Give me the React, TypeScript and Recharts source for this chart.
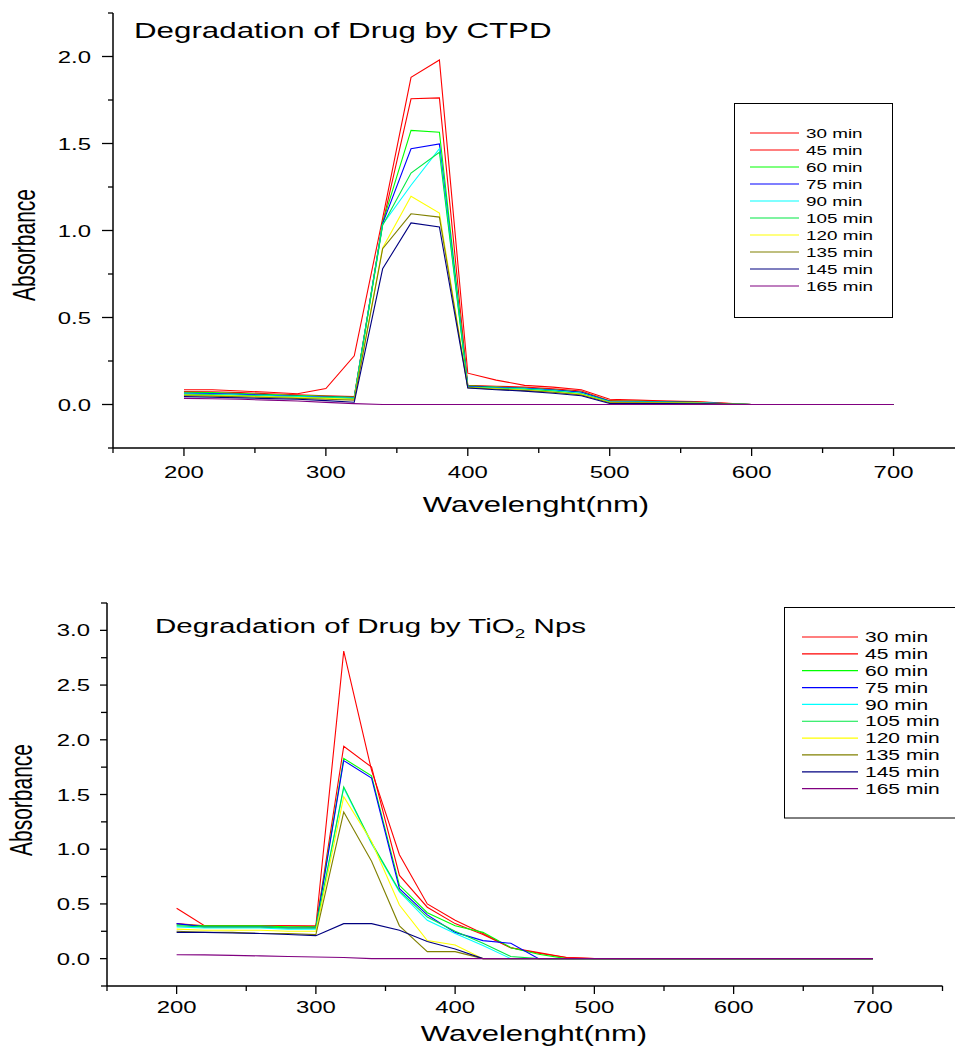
import React from 'react';
import { LineChart, Line, XAxis, YAxis } from 'recharts';

const WAVELENGTHS = [200, 220, 240, 260, 280, 300, 320, 340, 360, 380, 400, 420, 440, 460, 480, 500, 520, 540, 560, 580, 600, 620, 640, 660, 680, 700];
const TIME_LABELS = ['30 min', '45 min', '60 min', '75 min', '90 min', '105 min', '120 min', '135 min', '145 min', '165 min'];
const SERIES_COLORS = ['#ff0000', '#ff0000', '#00ff00', '#0000ff', '#00ffff', '#00e844', '#ffff00', '#808000', '#000080', '#800080'];

// Degradation of Drug by CTPD
const ctpd30 = [0.085, 0.085, 0.078, 0.07, 0.062, 0.092, 0.28, 1.07, 1.88, 1.98, 0.18, 0.14, 0.11, 0.1, 0.085, 0.03, 0.025, 0.02, 0.017, 0.008, 0, 0, 0, 0, 0, 0];
const ctpd45 = [0.075, 0.073, 0.068, 0.062, 0.056, 0.05, 0.045, 1.04, 1.757, 1.762, 0.11, 0.105, 0.1, 0.09, 0.078, 0.022, 0.02, 0.018, 0.015, 0.007, 0, 0, 0, 0, 0, 0];
const ctpd60 = [0.07, 0.068, 0.063, 0.057, 0.051, 0.047, 0.042, 1.045, 1.575, 1.565, 0.107, 0.1, 0.095, 0.085, 0.072, 0.02, 0.018, 0.016, 0.013, 0.006, 0, 0, 0, 0, 0, 0];
const ctpd75 = [0.065, 0.063, 0.058, 0.053, 0.047, 0.043, 0.04, 1.04, 1.47, 1.498, 0.104, 0.098, 0.093, 0.083, 0.07, 0.018, 0.016, 0.014, 0.012, 0.005, 0, 0, 0, 0, 0, 0];
const ctpd90 = [0.06, 0.058, 0.054, 0.05, 0.045, 0.04, 0.037, 1.035, 1.26, 1.47, 0.1, 0.095, 0.09, 0.08, 0.065, 0.015, 0.014, 0.012, 0.01, 0.005, 0, 0, 0, 0, 0, 0];
const ctpd105 = [0.058, 0.056, 0.052, 0.047, 0.042, 0.038, 0.035, 1.03, 1.33, 1.45, 0.1, 0.093, 0.087, 0.078, 0.062, 0.014, 0.013, 0.011, 0.009, 0.004, 0, 0, 0, 0, 0, 0];
const ctpd120 = [0.054, 0.052, 0.048, 0.044, 0.04, 0.035, 0.03, 0.9, 1.197, 1.1, 0.098, 0.09, 0.083, 0.072, 0.058, 0.012, 0.011, 0.01, 0.008, 0.004, 0, 0, 0, 0, 0, 0];
const ctpd135 = [0.05, 0.048, 0.044, 0.04, 0.035, 0.03, 0.025, 0.895, 1.096, 1.077, 0.097, 0.088, 0.08, 0.07, 0.055, 0.01, 0.01, 0.009, 0.007, 0.003, 0, 0, 0, 0, 0, 0];
const ctpd145 = [0.045, 0.042, 0.038, 0.034, 0.03, 0.022, 0.013, 0.78, 1.044, 1.02, 0.095, 0.085, 0.077, 0.065, 0.05, 0.006, 0.005, 0.005, 0.004, 0.002, 0, 0, 0, 0, 0, 0];
const ctpd165 = [0.035, 0.033, 0.03, 0.025, 0.02, 0.012, 0.005, 0, 0, 0, 0, 0, 0, 0, 0, 0, 0, 0, 0, 0, 0, 0, 0, 0, 0, 0];

// Degradation of Drug by TiO2 Nps
const tio30 = [0.46, 0.3, 0.3, 0.3, 0.3, 0.3, 2.81, 1.72, 0.95, 0.5, 0.35, 0.23, 0.1, 0.055, 0.01, 0, 0, 0, 0, 0, 0, 0, 0, 0, 0, 0];
const tio45 = [0.32, 0.3, 0.3, 0.3, 0.3, 0.29, 1.94, 1.75, 0.76, 0.47, 0.32, 0.22, 0.1, 0.05, 0.01, 0, 0, 0, 0, 0, 0, 0, 0, 0, 0, 0];
const tio60 = [0.31, 0.3, 0.3, 0.3, 0.29, 0.29, 1.83, 1.67, 0.67, 0.42, 0.3, 0.24, 0.1, 0.04, 0, 0, 0, 0, 0, 0, 0, 0, 0, 0, 0, 0];
const tio75 = [0.32, 0.29, 0.29, 0.29, 0.28, 0.28, 1.81, 1.65, 0.64, 0.4, 0.24, 0.165, 0.14, 0, 0, 0, 0, 0, 0, 0, 0, 0, 0, 0, 0, 0];
const tio90 = [0.29, 0.28, 0.28, 0.28, 0.27, 0.27, 1.56, 1.05, 0.61, 0.35, 0.23, 0.12, 0, 0, 0, 0, 0, 0, 0, 0, 0, 0, 0, 0, 0, 0];
const tio105 = [0.3, 0.29, 0.29, 0.29, 0.28, 0.28, 1.57, 1.06, 0.62, 0.38, 0.25, 0.14, 0.02, 0, 0, 0, 0, 0, 0, 0, 0, 0, 0, 0, 0, 0];
const tio120 = [0.27, 0.26, 0.26, 0.26, 0.25, 0.25, 1.48, 1.07, 0.49, 0.165, 0.125, 0, 0, 0, 0, 0, 0, 0, 0, 0, 0, 0, 0, 0, 0, 0];
const tio135 = [0.25, 0.24, 0.24, 0.23, 0.23, 0.22, 1.34, 0.89, 0.3, 0.064, 0.064, 0, 0, 0, 0, 0, 0, 0, 0, 0, 0, 0, 0, 0, 0, 0];
const tio145 = [0.24, 0.24, 0.235, 0.23, 0.22, 0.21, 0.32, 0.32, 0.26, 0.156, 0.089, 0, 0, 0, 0, 0, 0, 0, 0, 0, 0, 0, 0, 0, 0, 0];
const tio165 = [0.035, 0.034, 0.03, 0.025, 0.02, 0.015, 0.01, 0, 0, 0, 0, 0, 0, 0, 0, 0, 0, 0, 0, 0, 0, 0, 0, 0, 0, 0];

const CTPD_SERIES = [ctpd30, ctpd45, ctpd60, ctpd75, ctpd90, ctpd105, ctpd120, ctpd135, ctpd145, ctpd165];
const TIO_SERIES = [tio30, tio45, tio60, tio75, tio90, tio105, tio120, tio135, tio145, tio165];

const X_TICKS = [150, 200, 250, 300, 350, 400, 450, 500, 550, 600, 650, 700, 750];
const CTPD_Y_TICKS = [-0.25, 0, 0.25, 0.5, 0.75, 1, 1.25, 1.5, 1.75, 2, 2.25];
const TIO_Y_TICKS = [-0.25, 0, 0.25, 0.5, 0.75, 1, 1.25, 1.5, 1.75, 2, 2.25, 2.5, 2.75, 3, 3.25];

const CTPD_TITLE = 'Degradation of Drug by CTPD';
const TIO_TITLE_A = 'Degradation of Drug by TiO';
const TIO_TITLE_SUB = '2';
const TIO_TITLE_B = ' Nps';
const X_TITLE = 'Wavelenght(nm)';
const Y_TITLE = 'Absorbance';

const SX = 1.45;
const FONT = "'Liberation Sans', Arial, Helvetica, sans-serif";

function buildRows(series: number[][]) {
  return WAVELENGTHS.map((wl, i) => {
    const row: any = { wl };
    series.forEach((s, j) => {
      row['s' + j] = s[i];
    });
    return row;
  });
}

const ctpdRows = buildRows(CTPD_SERIES);
const tioRows = buildRows(TIO_SERIES);

function makeXTick(labelDy: number) {
  return (props: any) => {
    const { x, y, payload } = props;
    const v = payload.value;
    const major = v % 100 === 0;
    return (
      <g>
        <line x1={x} x2={x} y1={y} y2={y + (major ? 8 : 5)} stroke="#000" strokeWidth={1.3} />
        {major && (
          <text
            transform={`translate(${x},${y + labelDy}) scale(${SX},1)`}
            textAnchor="middle"
            fontSize={16.5}
            fill="#000"
            fontFamily={FONT}
          >
            {v}
          </text>
        )}
      </g>
    );
  };
}

function makeYTick(majorLen: number, minorLen: number, labelGap: number) {
  return (props: any) => {
    const { x, y, payload } = props;
    const v = payload.value;
    const major = Math.abs(v * 2 - Math.round(v * 2)) < 1e-6;
    return (
      <g>
        <line x1={x} x2={x - (major ? majorLen : minorLen)} y1={y} y2={y} stroke="#000" strokeWidth={1.3} />
        {major && (
          <text
            transform={`translate(${x - labelGap},${y + 6}) scale(${SX},1)`}
            textAnchor="end"
            fontSize={16.5}
            fill="#000"
            fontFamily={FONT}
          >
            {v.toFixed(1)}
          </text>
        )}
      </g>
    );
  };
}

const axisLineStyle = { stroke: '#000', strokeWidth: 1.5 };

function renderLines() {
  return TIME_LABELS.map((label, j) => (
    <Line
      key={label}
      type="linear"
      dataKey={'s' + j}
      name={label}
      stroke={SERIES_COLORS[j]}
      strokeWidth={1.1}
      dot={false}
      activeDot={false}
      isAnimationActive={false}
    />
  ));
}

function StretchedText(props: { x: number; y: number; size: number; anchor?: string; children: any; rotate?: boolean }) {
  const { x, y, size, anchor = 'start', children, rotate } = props;
  return (
    <text
      transform={`translate(${x},${y}) scale(${SX},1)${rotate ? ' rotate(-90)' : ''}`}
      textAnchor={anchor as any}
      fontSize={size}
      fill="#000"
      fontFamily={FONT}
    >
      {children}
    </text>
  );
}

function LegendBlock(props: {
  left: number; top: number; width: number; height: number;
  lx1: number; lx2: number; tx: number; y0: number; dy: number; size: number;
}) {
  const { left, top, width, height, lx1, lx2, tx, y0, dy, size } = props;
  return (
    <g>
      <rect x={left} y={top} width={width} height={height} fill="#fff" stroke="#000" strokeWidth={1} />
      {TIME_LABELS.map((label, i) => {
        const yy = y0 + dy * i;
        return (
          <g key={label}>
            <line x1={lx1} x2={lx2} y1={yy} y2={yy} stroke={SERIES_COLORS[i]} strokeWidth={1.2} />
            <StretchedText x={tx} y={yy + size * 0.36} size={size}>{label}</StretchedText>
          </g>
        );
      })}
    </g>
  );
}

export default function App() {
  return (
    <div
      style={{
        position: 'absolute',
        left: 0,
        top: 0,
        width: 955,
        height: 1046,
        overflow: 'hidden',
        background: '#fff',
        fontFamily: FONT,
      }}
    >
      <div style={{ position: 'absolute', left: 0, top: 0 }}>
        <LineChart width={980} height={530} data={ctpdRows} margin={{ top: 13, right: 15.5, left: 53, bottom: 12 }}>
          <XAxis
            type="number"
            dataKey="wl"
            domain={[150, 750]}
            ticks={X_TICKS}
            interval={0}
            tickSize={0}
            tickMargin={0}
            tickLine={false}
            axisLine={axisLineStyle}
            tick={makeXTick(30)}
            height={70}
            allowDataOverflow
          />
          <YAxis
            type="number"
            domain={[-0.25, 2.25]}
            ticks={CTPD_Y_TICKS}
            interval={0}
            tickSize={0}
            tickMargin={0}
            tickLine={false}
            axisLine={axisLineStyle}
            tick={makeYTick(11, 5, 22)}
            width={60}
            allowDataOverflow
          />
          {renderLines()}
        </LineChart>
      </div>
      <div style={{ position: 'absolute', left: 0, top: 560 }}>
        <LineChart width={955} height={486} data={tioRows} margin={{ top: 43, right: 12.5, left: 47, bottom: 10 }}>
          <XAxis
            type="number"
            dataKey="wl"
            domain={[150, 750]}
            ticks={X_TICKS}
            interval={0}
            tickSize={0}
            tickMargin={0}
            tickLine={false}
            axisLine={axisLineStyle}
            tick={makeXTick(27)}
            height={50}
            allowDataOverflow
          />
          <YAxis
            type="number"
            domain={[-0.25, 3.25]}
            ticks={TIO_Y_TICKS}
            interval={0}
            tickSize={0}
            tickMargin={0}
            tickLine={false}
            axisLine={axisLineStyle}
            tick={makeYTick(7, 6, 17)}
            width={60}
            allowDataOverflow
          />
          {renderLines()}
        </LineChart>
      </div>
      <svg
        width={955}
        height={1046}
        style={{ position: 'absolute', left: 0, top: 0, pointerEvents: 'none' }}
      >
        <StretchedText x={134} y={38} size={21.6}>{CTPD_TITLE}</StretchedText>
        <text
          transform={`translate(155,633) scale(${SX},1)`}
          fontSize={20.4}
          fill="#000"
          fontFamily={FONT}
        >
          {TIO_TITLE_A}
          <tspan fontSize={13} dy={5}>{TIO_TITLE_SUB}</tspan>
          <tspan fontSize={20.4} dy={-5}>{TIO_TITLE_B}</tspan>
        </text>
        <StretchedText x={536} y={512} size={21.4} anchor="middle">{X_TITLE}</StretchedText>
        <StretchedText x={534} y={1041} size={21.4} anchor="middle">{X_TITLE}</StretchedText>
        <StretchedText x={35} y={245} size={21} anchor="middle" rotate>{Y_TITLE}</StretchedText>
        <StretchedText x={32} y={800} size={21} anchor="middle" rotate>{Y_TITLE}</StretchedText>
        <LegendBlock left={734.5} top={103.5} width={158} height={214} lx1={750} lx2={799} tx={806} y0={133} dy={17} size={13} />
        <LegendBlock left={784.5} top={607.5} width={200} height={210.5} lx1={802} lx2={858} tx={865} y0={637} dy={16.85} size={14.5} />
      </svg>
    </div>
  );
}
